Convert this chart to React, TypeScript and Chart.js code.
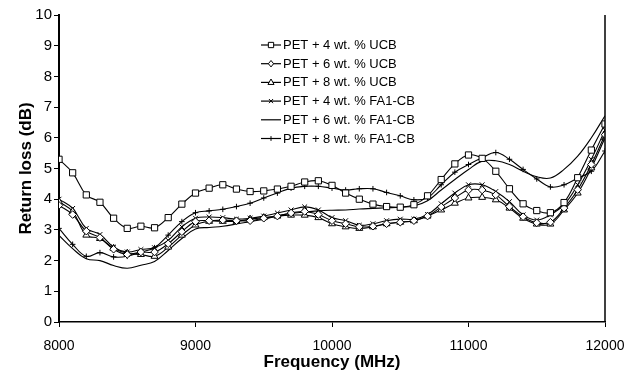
import React, { useEffect, useRef } from 'react';
import { Chart, registerables } from 'chart.js';

Chart.register(...registerables);

const frequencies = [
  8000, 8100, 8200, 8300, 8400, 8500, 8600, 8700, 8800, 8900,
  9000, 9100, 9200, 9300, 9400, 9500, 9600, 9700, 9800, 9900,
  10000, 10100, 10200, 10300, 10400, 10500, 10600, 10700, 10800, 10900,
  11000, 11100, 11200, 11300, 11400, 11500, 11600, 11700, 11800, 11900, 12000,
];

const seriesNames = [
  'PET + 4 wt. % UCB',
  'PET + 6 wt. % UCB',
  'PET + 8 wt. % UCB',
  'PET + 4 wt. % FA1-CB',
  'PET + 6 wt. % FA1-CB',
  'PET + 8 wt. % FA1-CB',
];

const ucb4 = [
  5.3, 4.86, 4.14, 3.9, 3.38, 3.05, 3.12, 3.07, 3.4, 3.84,
  4.2, 4.36, 4.47, 4.33, 4.25, 4.27, 4.33, 4.42, 4.56, 4.6,
  4.45, 4.2, 4.0, 3.84, 3.76, 3.74, 3.82, 4.11, 4.64, 5.15,
  5.44, 5.33, 4.91, 4.34, 3.85, 3.63, 3.56, 3.89, 4.7, 5.6, 6.45,
];

const ucb6 = [
  3.8, 3.5, 2.96, 2.75, 2.37, 2.2, 2.28, 2.28, 2.55, 2.94,
  3.27, 3.3, 3.32, 3.3, 3.3, 3.38, 3.45, 3.55, 3.6, 3.5,
  3.3, 3.2, 3.1, 3.12, 3.2, 3.25, 3.3, 3.45, 3.75, 4.04,
  4.3, 4.3, 4.14, 3.76, 3.43, 3.23, 3.25, 3.71, 4.31, 5.13, 6.1,
];

const ucb8 = [
  3.92, 3.6, 2.83, 2.72, 2.4, 2.24, 2.2, 2.14, 2.44, 2.83,
  3.16, 3.28, 3.28, 3.28, 3.35, 3.4, 3.45, 3.48, 3.48, 3.4,
  3.2, 3.1, 3.05, 3.1, 3.2, 3.25, 3.3, 3.45, 3.65, 3.87,
  4.04, 4.06, 3.98, 3.71, 3.38, 3.19, 3.19, 3.65, 4.2, 5.02, 6.0,
];

const fa4 = [
  4.0, 3.7, 3.05, 2.85, 2.44, 2.28, 2.36, 2.42, 2.66, 3.1,
  3.38, 3.42, 3.4, 3.35, 3.38, 3.45, 3.55, 3.65, 3.75, 3.65,
  3.4, 3.3, 3.15, 3.2, 3.3, 3.35, 3.35, 3.5, 3.85, 4.2,
  4.47, 4.47, 4.25, 3.92, 3.49, 3.32, 3.49, 3.82, 4.47, 5.3, 6.25,
];

const fa6 = [
  2.82, 2.39, 2.06, 2.0, 1.84, 1.75, 1.85, 1.97, 2.33, 2.72,
  3.03, 3.08, 3.12, 3.19, 3.27, 3.35, 3.45, 3.54, 3.58, 3.62,
  3.64, 3.65, 3.68, 3.7, 3.72, 3.74, 3.78, 3.95, 4.3, 4.64,
  4.97, 5.24, 5.25, 5.13, 4.91, 4.73, 4.69, 4.97, 5.4, 6.0, 6.72,
];

const fa8 = [
  3.05, 2.53, 2.14, 2.26, 2.12, 2.14, 2.28, 2.42, 2.83, 3.27,
  3.56, 3.62, 3.67, 3.76, 3.87, 4.04, 4.2, 4.36, 4.42, 4.42,
  4.36, 4.3, 4.34, 4.34, 4.22, 4.11, 3.98, 4.05, 4.47, 4.88,
  5.13, 5.35, 5.52, 5.3, 4.97, 4.66, 4.4, 4.47, 4.69, 4.91, 5.57,
];

const xTicks = [8000, 9000, 10000, 11000, 12000];
const yTicks = [0, 1, 2, 3, 4, 5, 6, 7, 8, 9, 10];

const allSeries = [ucb4, ucb6, ucb8, fa4, fa6, fa8];
const markerStyles = ['rect', 'rectRot', 'triangle', 'crossRot', 'none', 'cross'];
const markerSizes = [4.4, 3.8, 4.0, 3.4, 0, 2.8];

const FONT = '"Liberation Sans", Arial, Helvetica, sans-serif';

function drawMarker(ctx: CanvasRenderingContext2D, style: string, x: number, y: number, r: number) {
  if (style === 'none' || r <= 0) return;
  ctx.save();
  ctx.lineWidth = 1;
  ctx.strokeStyle = '#000';
  ctx.fillStyle = '#fff';
  ctx.beginPath();
  if (style === 'rect') {
    const s = r * Math.SQRT1_2;
    ctx.rect(x - s, y - s, 2 * s, 2 * s);
    ctx.fill();
    ctx.stroke();
  } else if (style === 'rectRot') {
    ctx.moveTo(x, y - r);
    ctx.lineTo(x + r * 0.8, y);
    ctx.lineTo(x, y + r);
    ctx.lineTo(x - r * 0.8, y);
    ctx.closePath();
    ctx.fill();
    ctx.stroke();
  } else if (style === 'triangle') {
    ctx.moveTo(x, y - r);
    ctx.lineTo(x + r * 0.9, y + r * 0.6);
    ctx.lineTo(x - r * 0.9, y + r * 0.6);
    ctx.closePath();
    ctx.fill();
    ctx.stroke();
  } else if (style === 'crossRot') {
    const s = r * Math.SQRT1_2;
    ctx.moveTo(x - s, y - s);
    ctx.lineTo(x + s, y + s);
    ctx.moveTo(x + s, y - s);
    ctx.lineTo(x - s, y + s);
    ctx.stroke();
  } else if (style === 'cross') {
    ctx.moveTo(x, y - r);
    ctx.lineTo(x, y + r);
    ctx.moveTo(x - r, y);
    ctx.lineTo(x + r, y);
    ctx.stroke();
  }
  ctx.restore();
}

const insideLegend = {
  id: 'insideLegend',
  afterDraw(chart: any) {
    const ctx: CanvasRenderingContext2D = chart.ctx;
    const area = chart.chartArea;
    ctx.save();
    ctx.strokeStyle = '#000';
    ctx.lineWidth = 1.5;
    ctx.beginPath();
    ctx.moveTo(area.right, area.top);
    ctx.lineTo(area.right, area.bottom);
    ctx.stroke();
    ctx.restore();

    const x0 = 261;
    const y0 = 45;
    const rowH = 18.7;
    ctx.save();
    ctx.font = `13px ${FONT}`;
    ctx.textBaseline = 'middle';
    ctx.fillStyle = '#000';
    seriesNames.forEach((name, i) => {
      const y = y0 + i * rowH;
      ctx.strokeStyle = '#000';
      ctx.lineWidth = 1.2;
      ctx.beginPath();
      ctx.moveTo(x0, y);
      ctx.lineTo(x0 + 20, y);
      ctx.stroke();
      drawMarker(ctx, markerStyles[i], x0 + 10, y, markerSizes[i] * 0.85);
      ctx.fillText(name, x0 + 22, y + 0.5);
    });
    ctx.restore();
  },
};

export default function App() {
  const canvasRef = useRef<HTMLCanvasElement | null>(null);

  useEffect(() => {
    document.body.style.margin = '0';
    const canvas = canvasRef.current;
    if (!canvas) return;

    const datasets = allSeries.map((values, i) => ({
      label: seriesNames[i],
      data: frequencies.map((f, j) => ({ x: f, y: values[j] })),
      borderColor: '#000',
      borderWidth: 1.1,
      backgroundColor: '#fff',
      pointStyle: markerStyles[i] === 'none' ? false : (markerStyles[i] as any),
      pointRadius: markerSizes[i],
      pointBorderWidth: 1,
      pointBorderColor: '#000',
      pointBackgroundColor: '#fff',
      tension: 0.4,
      fill: false,
    }));

    const chart = new Chart(canvas, {
      type: 'line',
      data: { datasets: datasets as any },
      options: {
        responsive: false,
        animation: false,
        devicePixelRatio: 1,
        layout: { padding: { left: 0, right: 28, top: 15, bottom: 0 } },
        plugins: {
          legend: { display: false },
          tooltip: { enabled: false },
        },
        scales: {
          x: {
            type: 'linear',
            min: 8000,
            max: 12000,
            afterBuildTicks: (scale: any) => {
              scale.ticks = xTicks.map((v) => ({ value: v }));
            },
            afterFit: (scale: any) => {
              scale.height = 51;
              scale.paddingLeft = 0;
              scale.paddingRight = 0;
            },
            ticks: {
              color: '#000',
              font: { family: FONT, size: 14 },
              padding: 11,
              maxRotation: 0,
              autoSkip: false,
              callback: (v: any) => String(v),
            },
            grid: {
              drawOnChartArea: false,
              drawTicks: true,
              tickLength: 5,
              color: '#000',
              lineWidth: 1,
            },
            border: { color: '#000', width: 1.5 },
            title: {
              display: true,
              text: 'Frequency (MHz)',
              color: '#000',
              font: { family: FONT, size: 17, weight: 'bold', lineHeight: 1 },
              padding: { top: 0, bottom: 2 },
            },
          },
          y: {
            type: 'linear',
            min: 0,
            max: 10,
            afterBuildTicks: (scale: any) => {
              scale.ticks = yTicks.map((v) => ({ value: v }));
            },
            afterFit: (scale: any) => {
              scale.width = 59;
            },
            ticks: {
              color: '#000',
              font: { family: FONT, size: 15 },
              padding: 2,
              autoSkip: false,
              callback: (v: any) => String(v),
            },
            grid: {
              drawOnChartArea: false,
              drawTicks: true,
              tickLength: 5,
              color: '#000',
              lineWidth: 1,
            },
            border: { color: '#000', width: 2 },
            title: {
              display: true,
              text: 'Return loss (dB)',
              color: '#000',
              font: { family: FONT, size: 17, weight: 'bold', lineHeight: 1 },
              padding: { top: 18, bottom: 0 },
            },
          },
        },
      },
      plugins: [insideLegend],
    });

    return () => {
      chart.destroy();
    };
  }, []);

  return (
    <div style={{ width: 633, height: 373, background: '#fff' }}>
      <canvas ref={canvasRef} width={633} height={373} style={{ display: 'block' }} />
    </div>
  );
}
